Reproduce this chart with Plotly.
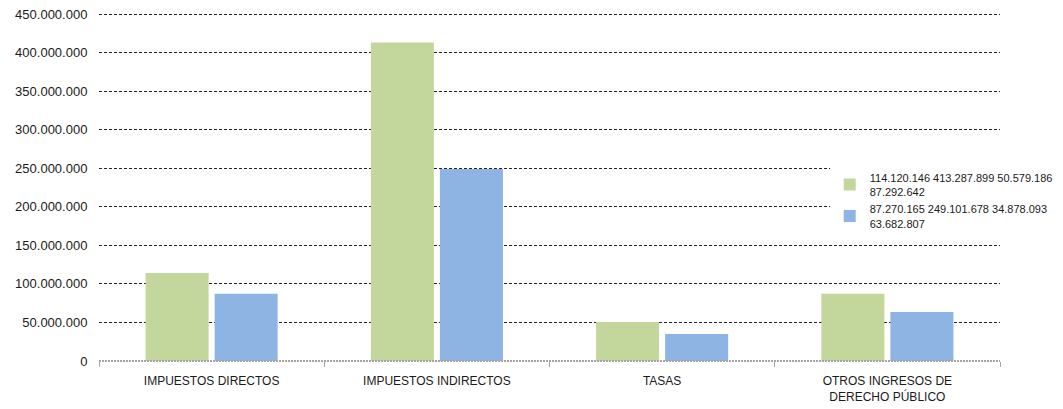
import plotly.graph_objects as go

categories = ["IMPUESTOS DIRECTOS", "IMPUESTOS INDIRECTOS", "TASAS",
              "OTROS INGRESOS DE<br>DERECHO PÚBLICO"]
serie_a = [114120146, 413287899, 50579186, 87292642]
serie_b = [87270165, 249101678, 34878093, 63682807]
y_ticks = list(range(0, 450000001, 50000000))


def fmt(v):
    return f"{v:,}".replace(",", ".")


def legend_name(vals):
    parts = [fmt(v) for v in vals]
    return " ".join(parts[:3]) + "<br>" + " ".join(parts[3:])


fig = go.Figure()
fig.add_trace(go.Bar(x=categories, y=serie_a, name=legend_name(serie_a),
                     marker=dict(color="#c3d69b", line=dict(width=0))))
fig.add_trace(go.Bar(x=categories, y=serie_b, name=legend_name(serie_b),
                     marker=dict(color="#8eb4e3", line=dict(width=0))))

fig.update_layout(
    width=1055, height=401,
    margin=dict(l=91, r=63, t=5, b=48, autoexpand=False),
    paper_bgcolor="white", plot_bgcolor="white",
    separators=",.",
    barmode="group", bargap=0.387, bargroupgap=0.087,
    font=dict(family="Liberation Sans, Arial, sans-serif", size=12, color="#1a1a1a"),
    legend=dict(x=0.811, y=0.567, xanchor="left", yanchor="top",
                bgcolor="white", font=dict(size=11),
                itemwidth=30, tracegroupgap=0),
    xaxis=dict(showgrid=False, ticks="outside", tickson="boundaries",
               ticklen=5, tickcolor="#a6a6a6", showline=False,
               ticklabelstandoff=11, tickfont=dict(size=12)),
    yaxis=dict(range=[0, 451500000], tickvals=y_ticks, tickformat=",.0f",
               showgrid=True, gridcolor="#222222", griddash="3px,2px", gridwidth=1,
               zeroline=True, zerolinecolor="white", zerolinewidth=1,
               showline=False, ticks="outside", ticklen=8, tickcolor="rgba(0,0,0,0)",
               ticklabeloverflow="allow", tickfont=dict(size=13)),
)
fig.add_shape(type="line", xref="paper", yref="paper", x0=0, x1=1, y0=0, y1=0,
              line=dict(color="#a6a6a6", width=2, dash="2px,1px"), layer="above")

fig.write_html("out.html")
